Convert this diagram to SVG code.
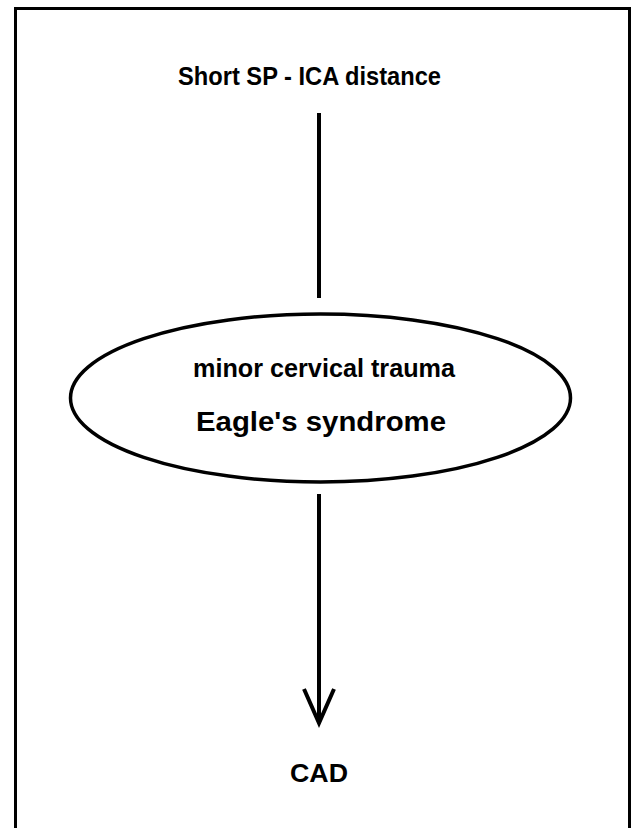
<svg xmlns="http://www.w3.org/2000/svg" width="632" height="828" viewBox="0 0 632 828">
<style>
.t{font-family:"Liberation Sans",Arial,sans-serif;font-weight:bold;fill:#000}
.ln{stroke:#000;stroke-width:4;fill:none}
</style>
<rect width="632" height="828" fill="#fff"/>
<path d="M15.5,828 V8.5 H629.5 V828" fill="none" stroke="#000" stroke-width="3"/>
<g id="node-top"><text class="t" x="178" y="85" font-size="25.5" textLength="263" lengthAdjust="spacingAndGlyphs">Short SP - ICA distance</text></g>
<g id="node-middle">
<ellipse cx="320.5" cy="398" rx="250" ry="84" fill="#fff" stroke="#000" stroke-width="3.5"/>
<text class="t" x="193" y="377" font-size="26.5" textLength="262" lengthAdjust="spacingAndGlyphs">minor cervical trauma</text>
<text class="t" x="196" y="431" font-size="28.5" textLength="250" lengthAdjust="spacingAndGlyphs">Eagle's syndrome</text>
</g>
<g id="node-cad"><text class="t" x="290" y="782" font-size="26.5" textLength="58" lengthAdjust="spacingAndGlyphs">CAD</text></g>
<g id="connectors">
<line class="ln" x1="319" y1="113" x2="319" y2="298"/>
<line class="ln" x1="319" y1="494" x2="319" y2="723"/>
<polyline class="ln" points="304,689 319,723 334,689"/>
</g>
</svg>
